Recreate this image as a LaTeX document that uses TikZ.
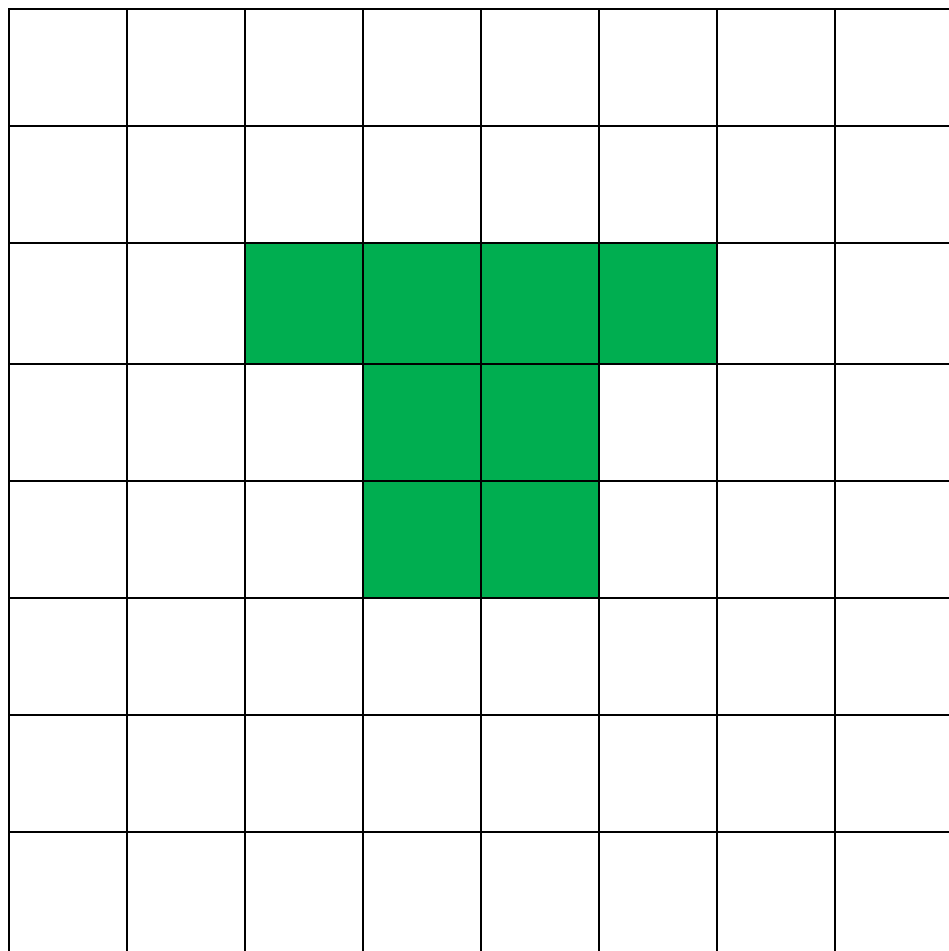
\documentclass[tikz,border=0pt]{standalone}
\definecolor{cellgreen}{HTML}{00AE50}
\begin{document}
\begin{tikzpicture}[x=1pt,y=-1pt,gridline/.style={black,line width=2pt},greencell/.style={fill=cellgreen}]
\useasboundingbox (0,0) rectangle (949,951);
\fill[white] (0,0) rectangle (949,951);
% green cells
\fill[greencell] (245,243) rectangle (717,364);
\fill[greencell] (363,364) rectangle (599,598);
% vertical lines
\foreach \x in {9,127,245,363,481,599,717,835}
  \draw[gridline] (\x,8) -- (\x,951);
% horizontal lines
\foreach \y in {9,126,243,364,481,598,715,832}
  \draw[gridline] (8,\y) -- (949,\y);
\end{tikzpicture}
\end{document}
